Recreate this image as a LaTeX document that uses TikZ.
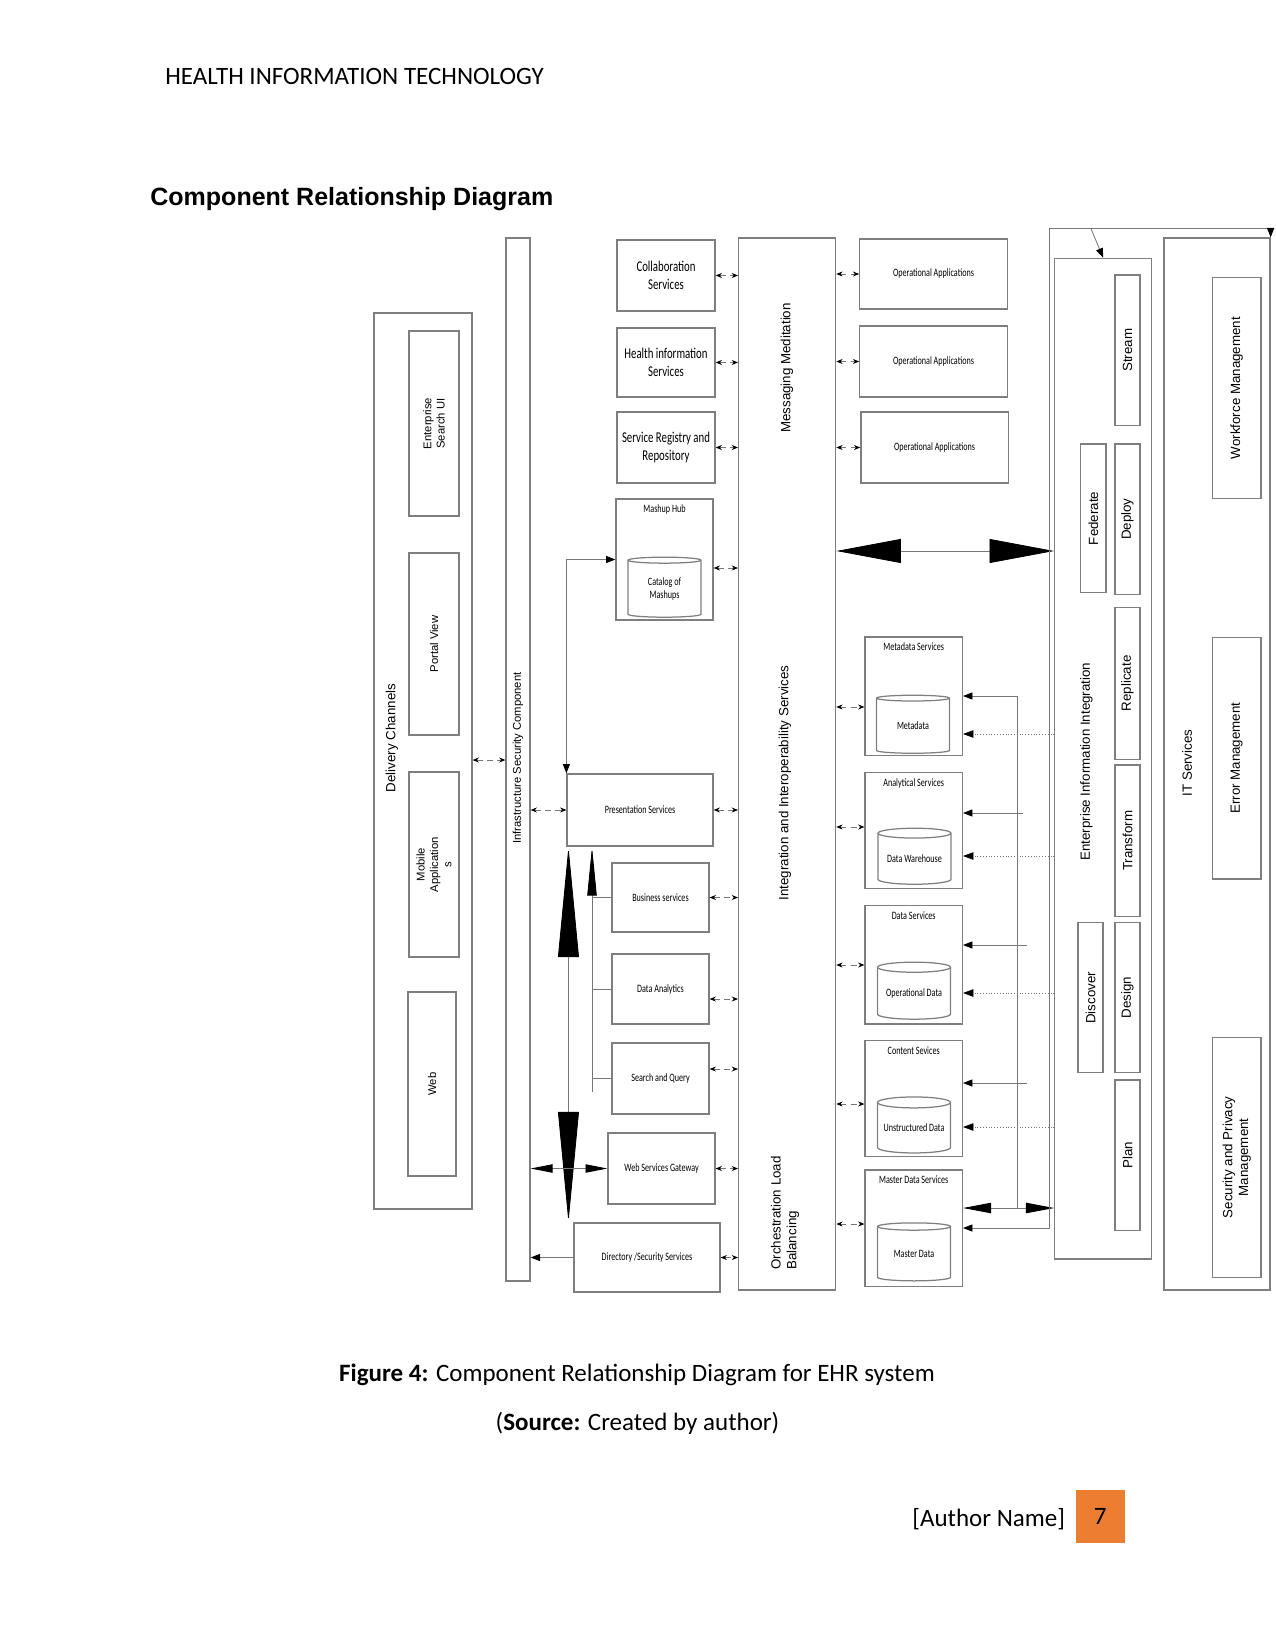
\documentclass[tikz,border=0pt]{standalone}
\usepackage{fontspec}
\setmainfont{Carlito}
\newfontfamily\boxfont[FakeStretch=0.72]{Carlito}
\newfontfamily\sidefont{Liberation Sans}
\usetikzlibrary{arrows.meta,shapes.geometric,fit}
\definecolor{cline}{HTML}{777777}
\definecolor{cframe}{HTML}{7F7F7F}
\definecolor{pageorange}{HTML}{ED7D31}
\newdimen\pxl \pxl=0.48pt
\newcommand{\smallbox}{\boxfont\fontsize{5.4}{6.4}\selectfont}
\newcommand{\largebox}{\boxfont\fontsize{7.2}{8.4}\selectfont}
\newcommand{\sidelab}{\sidefont\fontsize{6.4}{7.6}\selectfont}
\newcommand{\tinyside}{\sidefont\fontsize{5.4}{6.4}\selectfont}

\begin{document}
\begin{tikzpicture}[x=0.48pt, y=-0.48pt,
  frame/.style={draw=cframe, line width=0.6pt, inner sep=0pt},
  service/.style={frame, label={[font=\smallbox, align=center, anchor=center, inner sep=0pt]center:#1}},
  big service/.style={frame, label={[font=\largebox, align=center, anchor=center, inner sep=0pt]center:#1}},
  titled/.style={frame, label={[font=\smallbox, anchor=north, inner sep=3pt]north:#1}},
  vlab/.style={rotate=90, anchor=center, font=\sidelab, align=center, inner sep=0pt},
  slot/.style={frame, label={[vlab]center:#1}},
  small slot/.style={frame, label={[vlab, font=\tinyside]center:#1}},
  db/.style={cylinder, shape border rotate=90, aspect=0.18, draw=cframe,
    line width=0.6pt, font=\smallbox, align=center, inner sep=0pt},
  link/.style={densely dashed, draw=cline, line width=0.4pt, <->,
    >={Stealth[length=3pt,width=2.4pt,color=black]}},
  wire/.style={draw=cline, line width=0.4pt},
  feed/.style={wire, -{Triangle[length=4.5pt,width=3.4pt,color=black]}},
  both feed/.style={wire, {Triangle[length=4.5pt,width=3.4pt,color=black]}-{Triangle[length=4.5pt,width=3.4pt,color=black]}},
  tap/.style={draw=cline, line width=0.35pt, densely dotted,
    -{Triangle[length=5pt,width=3.6pt,color=black]}},
  wide link/.style={wire, {Triangle[length=31pt,width=11.5pt,color=black]}-{Triangle[length=31pt,width=11.5pt,color=black]}},
  tall link/.style={wire, {Triangle[length=53pt,width=10pt,color=black]}-{Triangle[length=53pt,width=10pt,color=black]}},
  short link/.style={wire, {Triangle[length=13.5pt,width=5pt,color=black]}-{Triangle[length=13.5pt,width=5pt,color=black]}},
  gate link/.style={wire, {Triangle[length=10.5pt,width=4pt,color=black]}-{Triangle[length=10.5pt,width=4pt,color=black]}},
  page text/.style={inner sep=0pt, font=\fontsize{12}{14}\selectfont}
]
\useasboundingbox (0,0) rectangle (1275,1650);

% page furniture
\node[page text, anchor=base west] (runhead) at (165,85) {HEALTH INFORMATION TECHNOLOGY};
\node[page text, anchor=base west, font=\sidefont\bfseries\fontsize{12}{14}\selectfont] (title) at (150,206) {Component Relationship Diagram};

% delivery channels
\node[frame, fit={(374,313) (472,1209)}] (dchan) {};
\node[vlab] (dchanlab) at (392,738) {Delivery Channels};
\node[small slot={Enterprise\\Search UI}, fit={(409,331) (459,516)}] (esui) {};
\node[small slot={Portal View}, fit={(409,553) (459,735)}] (pview) {};
\node[small slot={Mobile\\Application\\s}, fit={(409,772) (459,957)}] (mobile) {};
\node[small slot={Web}, fit={(408,992) (456,1176)}] (web) {};

% infrastructure bar
\node[frame, fit={(506,238) (530,1281)}] (infra) {};
\node[vlab, font=\tinyside] (infralab) at (518,758) {Infrastructure Security Component};

% front services
\node[big service={Collaboration\\Services}, fit={(617,240) (715,311)}] (collab) {};
\node[big service={Health information\\Services}, fit={(617,328) (715,397)}] (hinfo) {};
\node[big service={Service Registry and\\Repository}, fit={(617,412) (715,483)}] (sreg) {};
\node[titled={Mashup Hub}, fit={(616,499) (713,620)}] (mashup) {};
\node[db, minimum width=73*\pxl, minimum height=60*\pxl] (catalog) at (664.5,589) {Catalog of\\Mashups};
\node[service={Presentation Services}, fit={(567,774) (713,846)}] (pres) {};
\node[service={Business services}, fit={(612,863) (709,932)}] (bus) {};
\node[service={Data Analytics}, fit={(612,954) (709,1024)}] (dana) {};
\node[service={Search and Query}, fit={(612,1043) (709,1114)}] (squery) {};
\node[service={Web Services Gateway}, fit={(608,1133) (715,1204)}] (wsg) {};
\node[service={Directory /Security Services}, fit={(574,1223) (720,1292)}] (dirsec) {};

% integration column
\node[frame, fit={(738.6,238) (835.7,1290)}] (integ) {};
\node[vlab] (msglab) at (787,368) {Messaging Meditation};
\node[vlab] (intlab) at (785,783) {Integration and Interoperability Services};
\node[vlab, align=left] (orchlab) at (785,1213) {Orchestration Load\\Balancing};

% operational applications
\node[service={Operational Applications}, fit={(859.8,239) (1007.2,309)}] (opapp1) {};
\node[service={Operational Applications}, fit={(859.8,326) (1007.2,397)}] (opapp2) {};
\node[service={Operational Applications}, fit={(860.9,412) (1008.2,483)}] (opapp3) {};

% data services
\node[titled={Metadata Services}, fit={(865,637) (962.4,755.7)}] (meta) {};
\node[db, minimum width=73*\pxl, minimum height=58*\pxl] (metadb) at (913,726) {Metadata};
\node[titled={Analytical Services}, fit={(865,772.7) (962.4,888.3)}] (anal) {};
\node[db, minimum width=73*\pxl, minimum height=56*\pxl] (dwh) at (914.5,859) {Data Warehouse};
\node[titled={Data Services}, fit={(865,905.7) (962.4,1024)}] (datasvc) {};
\node[db, minimum width=73*\pxl, minimum height=57*\pxl] (opdata) at (914,993.5) {Operational Data};
\node[titled={Content Sevices}, fit={(865,1040.7) (962.4,1156.7)}] (content) {};
\node[db, minimum width=73*\pxl, minimum height=56*\pxl] (unstr) at (914,1128) {Unstructured Data};
\node[titled={Master Data Services}, fit={(865,1170) (962.4,1286.7)}] (master) {};
\node[db, minimum width=73*\pxl, minimum height=58*\pxl] (masterdb) at (914,1254) {Master Data};

% enterprise information integration
\node[frame, fit={(1054.7,258.3) (1151.5,1259)}] (eii) {};
\node[vlab] (eiilab) at (1086.4,761.7) {Enterprise Information Integration};
\node[slot={Stream}, fit={(1115,275) (1140,425.7)}] (stream) {};
\node[slot={Federate}, fit={(1080.6,444) (1106,592.7)}] (federate) {};
\node[slot={Deploy}, fit={(1115,444) (1140,594.3)}] (deploy) {};
\node[slot={Replicate}, fit={(1115,607.3) (1140,759.3)}] (replicate) {};
\node[slot={Transform}, fit={(1115,765) (1140,916.7)}] (transform) {};
\node[slot={Discover}, fit={(1078,922.7) (1103,1072.7)}] (discover) {};
\node[slot={Design}, fit={(1115,922.7) (1140,1072.7)}] (design) {};
\node[slot={Plan}, fit={(1115,1080) (1140,1230.7)}] (plan) {};

% IT services
\node[frame, fit={(1164,238) (1270,1290)}] (itsvc) {};
\node[vlab] (itlab) at (1187,763) {IT Services};
\node[slot={Workforce Management}, fit={(1212.5,277.3) (1261,498.7)}] (wfm) {};
\node[slot={Error Management}, fit={(1212.5,637.3) (1261,879)}] (errm) {};
\node[slot={Security and Privacy\\Management}, fit={(1212.5,1037.3) (1261,1277.3)}] (secm) {};

% left side links
\draw[link] (dchan.east |- 0,760) -- (infra.west |- 0,760);
\draw[link] (infra.east |- pres.west) -- (pres.west);
\draw[link] (collab.east) -- (integ.west |- collab.east);
\draw[link] (hinfo.east) -- (integ.west |- hinfo.east);
\draw[link] (sreg.east) -- (integ.west |- sreg.east);
\draw[link] (mashup.east |- 0,568) -- (integ.west |- 0,568);
\draw[link] (pres.east) -- (integ.west |- pres.east);
\draw[link] (bus.east) -- (integ.west |- bus.east);
\draw[link] (dana.east |- 0,999) -- (integ.west |- 0,999);
\draw[link] (squery.east |- 0,1069) -- (integ.west |- 0,1069);
\draw[link] (wsg.east) -- (integ.west |- wsg.east);
\draw[link] (dirsec.east) -- (integ.west |- dirsec.east);

% presentation feeds
\draw[both feed] (pres.north west) |- (mashup.west);
\draw[tall link] ([xshift=1pt]pres.south west) -- ([xshift=1pt]pres.south west |- dirsec.north);
\coordinate (busfoot) at (592,1092);
\draw[wire, -{Triangle[length=23.5pt,width=4.5pt,color=black]}] (busfoot) -- (busfoot |- pres.south);
\draw[wire] (bus.west) -- (busfoot |- bus.west);
\draw[wire] (dana.west) -- (busfoot |- dana.west);
\draw[wire] (squery.west) -- (busfoot |- squery.west);
\draw[gate link] (infra.east |- wsg.west) -- (wsg.west);
\draw[feed] (dirsec.west) -- (infra.east |- dirsec.west);

% right side links
\draw[link] (integ.east |- opapp1.west) -- (opapp1.west);
\draw[link] (integ.east |- opapp2.west) -- (opapp2.west);
\draw[link] (integ.east |- opapp3.west) -- (opapp3.west);
\draw[link] (integ.east |- 0,707) -- (meta.west |- 0,707);
\draw[link] (integ.east |- 0,827) -- (anal.west |- 0,827);
\draw[link] (integ.east |- 0,965) -- (datasvc.west |- 0,965);
\draw[link] (integ.east |- 0,1104) -- (content.west |- 0,1104);
\draw[link] (integ.east |- 0,1224) -- (master.west |- 0,1224);
\draw[wide link] (integ.east |- 0,551) -- (eii.west |- 0,551);

% data feeds
\coordinate (dbus) at (1017.5,1208);
\coordinate (analtap) at (1022.7,813);
\coordinate (datatap) at (1026.8,945);
\coordinate (conttap) at (1026.8,1083);
\draw[feed] (dbus) |- (meta.east |- 0,696);
\draw[feed] (analtap) -- (anal.east |- analtap);
\draw[feed] (datatap) -- (datasvc.east |- datatap);
\draw[feed] (conttap) -- (content.east |- conttap);
\draw[tap] (eii.west |- 0,734) -- (meta.east |- 0,734);
\draw[tap] (eii.west |- 0,856) -- (anal.east |- 0,856);
\draw[tap] (eii.west |- 0,993) -- (datasvc.east |- 0,993);
\draw[tap] (eii.west |- 0,1127) -- (content.east |- 0,1127);
\draw[short link] (master.east |- dbus) -- (eii.west |- dbus);

% return path to IT services
\coordinate (retcorner) at (1049.6,228);
\coordinate (retfork) at (1090.7,228);
\draw[both feed] (master.east |- 0,1228) -| (retcorner) -| (itsvc.north east);
\draw[feed] (retfork) -- (eii.north);

% caption and footer
\node[page text, anchor=base] (caption) at (637,1381) {\textbf{Figure 4:} Component Relationship Diagram for EHR system};
\node[page text, anchor=base] (source) at (637.5,1430) {(\textbf{Source:} Created by author)};
\node[page text, anchor=base west] (author) at (912,1526) {[Author Name]};
\node[fill=pageorange, inner sep=0pt, fit={(1076,1490) (1124.6,1543)},
  label={[page text, anchor=center]center:7}] (pageno) {};
\end{tikzpicture}
\end{document}
